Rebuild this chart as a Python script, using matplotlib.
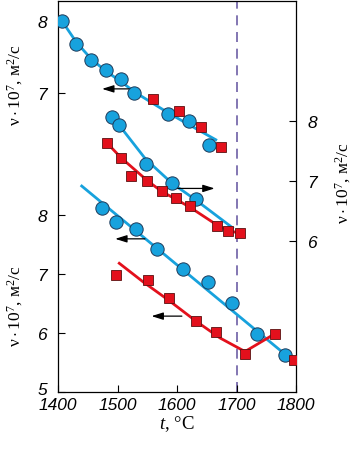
import matplotlib

matplotlib.use("Agg")
import matplotlib.pyplot as plt
from matplotlib.transforms import ScaledTranslation

plt.rcParams["mathtext.fontset"] = "custom"
plt.rcParams["mathtext.rm"] = "Liberation Serif"
plt.rcParams["mathtext.it"] = "Liberation Serif:italic"

# upper group, read on the upper-left scale
top_blue_t = [1406, 1431, 1456, 1481, 1506, 1528, 1585, 1620, 1653]
top_blue_v = [8.00, 7.68, 7.46, 7.32, 7.20, 7.01, 6.72, 6.62, 6.29]
top_red_t = [1559, 1603, 1640, 1673]
top_red_v = [6.92, 6.76, 6.54, 6.26]
top_fit_t = [1402, 1431, 1456, 1481, 1506, 1528, 1585, 1630, 1667]
top_fit_v = [8.05, 7.70, 7.47, 7.30, 7.16, 7.02, 6.73, 6.52, 6.35]

# middle group, read on the right scale
mid_blue_t = [1490, 1503, 1548, 1591, 1631]
mid_blue_v = [8.06, 7.92, 7.27, 6.96, 6.70]
mid_red_t = [1482, 1506, 1523, 1550, 1574, 1598, 1621, 1667, 1686, 1706]
mid_red_v = [7.63, 7.38, 7.08, 7.00, 6.82, 6.71, 6.58, 6.25, 6.16, 6.12]
mid_blue_fit_t = [1503, 1547, 1591, 1631, 1695]
mid_blue_fit_v = [7.92, 7.36, 6.96, 6.68, 6.20]
mid_red_fit_t = [1482, 1506, 1550, 1574, 1598, 1621, 1667, 1686, 1706]
mid_red_fit_v = [7.63, 7.38, 7.00, 6.82, 6.69, 6.56, 6.26, 6.17, 6.12]

# lower group, read on the lower-left scale
low_blue_t = [1474, 1497, 1531, 1567, 1610, 1652, 1692, 1735, 1782]
low_blue_v = [8.12, 7.89, 7.76, 7.43, 7.09, 6.87, 6.51, 5.99, 5.63]
low_red_t = [1497, 1551, 1587, 1631, 1666, 1714, 1764, 1797]
low_red_v = [6.99, 6.91, 6.59, 6.21, 6.02, 5.65, 5.99, 5.55]
low_blue_fit_t = [1438, 1790]
low_blue_fit_v = [8.51, 5.57]
low_red_fit_t = [1501, 1543, 1587, 1631, 1672, 1714, 1764]
low_red_fit_v = [7.20, 6.87, 6.55, 6.21, 5.92, 5.69, 5.99]

x_ticks = [1400, 1500, 1600, 1700, 1800]
low_ticks = [5, 6, 7, 8]
top_ticks = [7, 8]
right_ticks = [6, 7, 8]
t_melt = 1700

BLUE = "#17a2dd"
RED = "#e3101c"
EDGE_B = "#1d3a5a"
EDGE_R = "#5a1010"
ylabel = r"$\mathrm{\nu}\cdot10^{7}$, м$^{2}$/с"

fig = plt.figure(figsize=(3.56, 4.52), dpi=100)
rect = [0.163, 0.130, 0.669, 0.8657]
ax = fig.add_axes(rect)
ax_top = fig.add_axes(rect, frameon=False)
ax_r = fig.add_axes(rect, frameon=False)

for a in (ax, ax_top, ax_r):
    a.set_xlim(1400, 1800)
    a.patch.set_visible(False)
ax.set_ylim(5, 11.632)
ax_top.set_ylim(2.882, 8.271)
ax_r.set_ylim(3.473, 9.995)

tick_font = {"family": "Liberation Sans", "style": "italic", "size": 12.5}
ax.set_xticks(x_ticks)
ax.set_xticklabels([str(t) for t in x_ticks], fontdict=tick_font)
ax.set_yticks(low_ticks)
ax.set_yticklabels([str(v) for v in low_ticks], fontdict=tick_font)
ax_top.set_xticks([])
ax_top.set_yticks(top_ticks)
ax_top.set_yticklabels([str(v) for v in top_ticks], fontdict=tick_font)
ax_r.set_xticks([])
ax_r.yaxis.tick_right()
ax_r.set_yticks(right_ticks)
ax_r.set_yticklabels([str(v) for v in right_ticks], fontdict=tick_font)
ax.tick_params(axis="y", direction="in", length=5, width=0.8, pad=8)
ax.tick_params(axis="x", direction="in", length=5, width=0.8, pad=3.5)
ax_top.tick_params(axis="y", direction="in", length=5, width=0.8, pad=8)
ax_r.tick_params(axis="y", direction="in", length=5, width=0.8, pad=8)
for s in ax.spines.values():
    s.set_linewidth(0.9)

# lift the corner "5" a touch so it clears "1400"
five = ax.get_yticklabels()[0]
five.set_transform(five.get_transform() + ScaledTranslation(0, 3 / 72, fig.dpi_scale_trans))

ax.axvline(t_melt, color="#6d5fa6", lw=1.2, dashes=(6, 4), zorder=1)

line_kw = {"lw": 2.0, "solid_capstyle": "butt", "zorder": 2}
circ_kw = {"marker": "o", "ms": 9.6, "mfc": BLUE, "mec": EDGE_B, "mew": 0.7,
           "ls": "none", "zorder": 4}
sq_kw = {"marker": "s", "ms": 7.2, "mfc": RED, "mec": EDGE_R, "mew": 0.6,
         "ls": "none", "zorder": 4}

ax_top.plot(top_fit_t, top_fit_v, color=BLUE, **line_kw)
ax_top.plot(top_blue_t, top_blue_v, **circ_kw)
ax_top.plot(top_red_t, top_red_v, **sq_kw)

ax_r.plot(mid_blue_fit_t, mid_blue_fit_v, color=BLUE, **line_kw)
ax_r.plot(mid_red_fit_t, mid_red_fit_v, color=RED, **line_kw)
ax_r.plot(mid_blue_t, mid_blue_v, **circ_kw)
ax_r.plot(mid_red_t, mid_red_v, **sq_kw)

ax.plot(low_blue_fit_t, low_blue_fit_v, color=BLUE, **line_kw)
ax.plot(low_red_fit_t, low_red_fit_v, color=RED, **line_kw)
ax.plot(low_blue_t, low_blue_v, **circ_kw)
ax.plot(low_red_t, low_red_v, **sq_kw)

arrow = {"arrowstyle": "-|>,head_length=0.7,head_width=0.22", "color": "black",
         "lw": 0.9, "shrinkA": 0, "shrinkB": 0}
ax_top.annotate("", xy=(1474, 7.06), xytext=(1528, 7.06), arrowprops=arrow, zorder=3)
ax_r.annotate("", xy=(1663, 6.87), xytext=(1593, 6.87), arrowprops=arrow, zorder=3)
ax.annotate("", xy=(1496, 7.60), xytext=(1546, 7.60), arrowprops=arrow, zorder=3)
ax.annotate("", xy=(1557, 6.29), xytext=(1608, 6.29), arrowprops=arrow, zorder=3)

label_font = {"family": "Liberation Serif", "size": 12.5}
fig.text(15 / 356, 1 - 85 / 452, ylabel, rotation=90, ha="center", va="center",
         fontdict=label_font)
fig.text(15 / 356, 1 - 306 / 452, ylabel, rotation=90, ha="center", va="center",
         fontdict=label_font)
fig.text(343 / 356, 1 - 183 / 452, ylabel, rotation=90, ha="center", va="center",
         fontdict=label_font)
fig.text(177 / 356, 1 - 424 / 452, r"$t$, °C", ha="center", va="center",
         fontdict={"family": "Liberation Serif", "size": 13.5})

fig.savefig("out.png", dpi=100)
